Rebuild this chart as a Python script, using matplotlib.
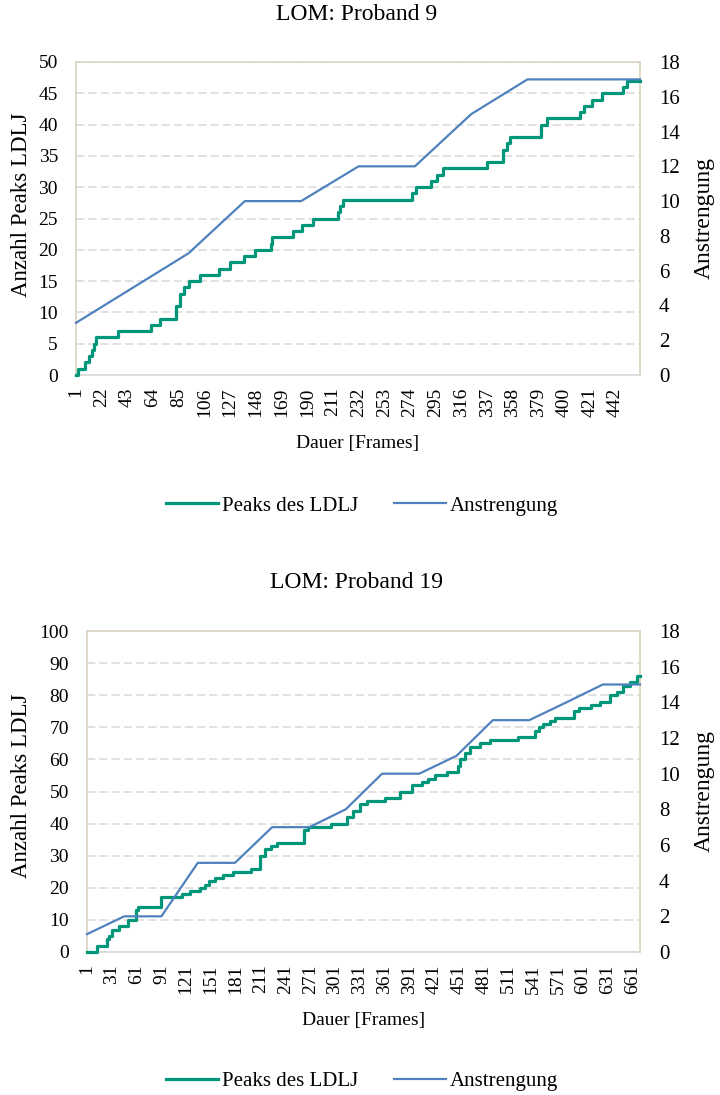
import numpy as np
import matplotlib
matplotlib.use("Agg")
import matplotlib.pyplot as plt

plt.rcParams["font.family"] = ["Liberation Serif", "DejaVu Serif"]

GREEN = "#00967a"
BLUE = "#4f81bd"
BORDER = "#d9d4bd"
GRID = "#d9d9d9"

# Proband 9
n_frames_9 = 462
peaks_9_frames = [1, 3, 8, 12, 14, 16, 17, 35, 62, 70, 83, 86, 89, 93, 102, 118, 127, 138,
                  147, 160, 161, 178, 186, 195, 215, 217, 219, 276, 279, 291, 296, 301, 337,
                  350, 353, 356, 381, 386, 413, 416, 423, 431, 448, 451]
peaks_9_values = [0, 1, 2, 3, 4, 5, 6, 7, 8, 9, 11, 13, 14, 15, 16, 17, 18, 19,
                  20, 21, 22, 23, 24, 25, 26, 27, 28, 29, 30, 31, 32, 33, 34,
                  36, 37, 38, 40, 41, 42, 43, 44, 45, 46, 47]
effort_9_frames = [1, 47, 93, 139, 185, 232, 278, 324, 370, 416, 462]
effort_9_values = [3, 5, 7, 10, 10, 12, 12, 15, 17, 17, 17]

# Proband 19
n_frames_19 = 670
peaks_19_frames = [1, 13, 25, 28, 31, 40, 51, 60, 63, 66, 68, 90, 116, 126, 138, 144, 148,
                   156, 166, 178, 200, 210, 216, 223, 231, 263, 268, 273, 296, 316, 323,
                   331, 340, 362, 380, 394, 406, 414, 422, 436, 450, 452, 458, 464, 477,
                   489, 523, 543, 548, 553, 561, 567, 590, 596, 611, 622, 634, 642, 650,
                   658, 666]
peaks_19_values = [0, 2, 4, 5, 7, 8, 10, 13, 14, 14, 14, 17, 18, 19, 20, 21, 22,
                   23, 24, 25, 26, 30, 32, 33, 34, 38, 39, 39, 40, 42, 44,
                   46, 47, 48, 50, 52, 53, 54, 55, 56, 58, 60, 62, 64, 65,
                   66, 67, 69, 70, 71, 72, 73, 75, 76, 77, 78, 80, 81, 83,
                   84, 86]
effort_19_frames = [1, 46, 91, 135, 180, 225, 270, 314, 358, 403, 448, 492, 536, 581, 625, 670]
effort_19_values = [1, 2, 2, 5, 5, 7, 7, 8, 10, 10, 11, 13, 13, 14, 15, 15]

H = 1095.0
W = 720.0


def draw_chart(ax, title, n_frames, p_frames, p_values, e_frames, e_values,
               y_max, y_step, tick_step, title_y, xlabel_y, legend_y, ylabel_y, y2label_y):
    ax2 = ax.twinx()
    steps_x = list(p_frames) + [n_frames]
    steps_y = list(p_values) + [p_values[-1]]
    ax.step(steps_x, steps_y, where="post", color=GREEN, lw=2.3, zorder=3,
            label="Peaks des LDLJ", clip_on=False)
    ax2.plot(e_frames, e_values, color=BLUE, lw=1.6, label="Anstrengung", zorder=3,
             clip_on=False)

    ax.set_xlim(1, n_frames)
    ax.set_ylim(0, y_max)
    ax.set_yticks(np.arange(0, y_max + 1, y_step))
    ax2.set_ylim(0, 18)
    ax2.set_yticks(np.arange(0, 19, 2))
    ax.set_xticks(np.arange(1, n_frames + 1, tick_step))
    ax.tick_params(axis="x", labelrotation=90, length=0, labelsize=14, pad=9)
    ax.tick_params(axis="y", length=0, labelsize=14, pad=13)
    ax2.tick_params(axis="y", length=0, labelsize=15, pad=13.5)
    ax.grid(axis="y", color=GRID, ls=(0, (5.5, 2.5)), lw=1.1)
    ax.set_axisbelow(True)

    for side in ("left", "top", "right"):
        ax.spines[side].set_color(BORDER)
        ax.spines[side].set_linewidth(1.2)
    ax.spines["bottom"].set_color(GRID)
    ax.spines["bottom"].set_linewidth(1.2)
    for side in ax2.spines:
        ax2.spines[side].set_visible(False)

    fig = ax.figure
    fig.text(0.495, title_y, title, ha="center", va="center", fontsize=17)
    bbox = ax.get_position()
    fig.text(bbox.x0 + bbox.width / 2, xlabel_y, "Dauer [Frames]", ha="center",
             va="center", fontsize=14)
    fig.text(22 / W, ylabel_y, "Anzahl Peaks LDLJ", rotation=90, ha="center",
             va="center", fontsize=16.5)
    fig.text(704 / W, y2label_y, "Anstrengung", rotation=90, ha="center",
             va="center", fontsize=17)

    h1, l1 = ax.get_legend_handles_labels()
    h2, l2 = ax2.get_legend_handles_labels()
    fig.legend(h1 + h2, l1 + l2, loc="center", bbox_to_anchor=(0.503, legend_y),
               ncol=2, frameon=False, fontsize=15, handlelength=2.5,
               handletextpad=0.2, columnspacing=1.7)


fig = plt.figure(figsize=(7.2, 10.95), dpi=100)
ax_top = fig.add_axes([76 / W, 1 - 375 / H, 564 / W, 313 / H])
ax_bottom = fig.add_axes([87 / W, 1 - 952 / H, 553 / W, 321 / H])

draw_chart(ax_top, "LOM: Proband 9", n_frames_9, peaks_9_frames, peaks_9_values,
           effort_9_frames, effort_9_values, 50, 5, 21,
           1 - 15 / H, 1 - 443 / H, 1 - 506 / H, 1 - 205 / H, 1 - 218 / H)
draw_chart(ax_bottom, "LOM: Proband 19", n_frames_19, peaks_19_frames, peaks_19_values,
           effort_19_frames, effort_19_values, 100, 10, 30,
           1 - 583 / H, 1 - 1020 / H, 1 - 1081 / H, 1 - 786 / H, 1 - 791 / H)

fig.savefig("out.png", dpi=100)
